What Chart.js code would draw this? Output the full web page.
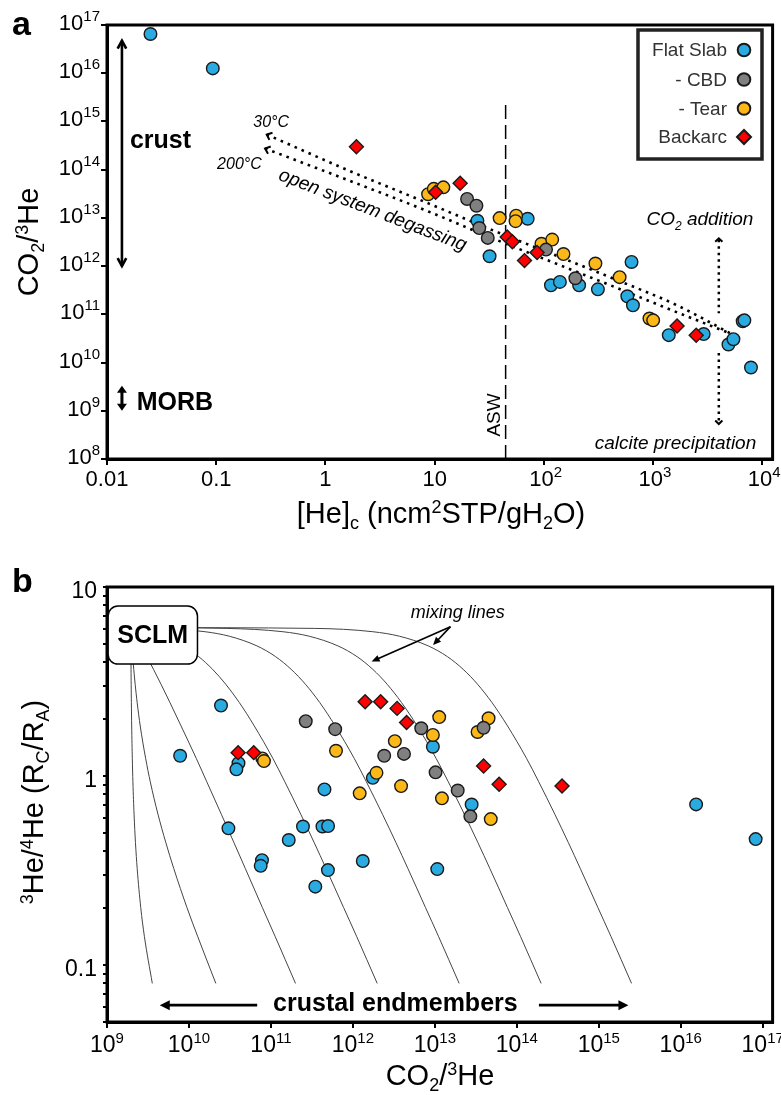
<!DOCTYPE html>
<html>
<head>
<meta charset="utf-8">
<script src="https://cdn.jsdelivr.net/npm/chart.js@4.4.0/dist/chart.umd.min.js"></script>
<style>
  html, body { margin: 0; padding: 0; background: #fff; }
  #wrap { position: relative; width: 781px; height: 1095px; }
  #wrap canvas { position: absolute; left: 0; }
  #chartA { top: 0; }
  #chartB { top: 540px; }
</style>
</head>
<body>
<div id="wrap">
  <canvas id="chartA" width="781" height="540"></canvas>
  <canvas id="chartB" width="781" height="555"></canvas>
</div>
<script>
var FONT = '"Liberation Sans", Arial, Helvetica, sans-serif';
var BLUE = '#29ABE2', GRAY = '#808080', YELLOW = '#FBB817', RED = '#FF0000', EDGE = '#1a1a1a';

// ---- panel a : [He]c vs CO2/3He ----
var aFlatSlab = [[0.025,6.5e16],[0.093,1.26e16],[24.6,8.7e12],[31.8,1.6e12],[71,9.6e12],[116,4.0e11],[140,4.7e11],
  [210,4.0e11],[312,3.3e11],[634,1.22e12],[580,2.37e11],[653,1.54e11],[1390,3.7e10],[2900,3.9e10],[4890,2.37e10],
  [5430,3.05e10],[6600,7.2e10],[6840,7.5e10],[7860,7.9e9]];
var aCBD = [[19.8,2.47e13],[24.1,1.79e13],[25.6,6.15e12],[30.6,3.85e12],[104.5,2.2e12],[194,5.6e11]];
var aTear = [[8.7,3.1e13],[9.8,4.0e13],[12.0,4.3e13],[39.3,9.9e12],[55.7,1.11e13],[55,8.55e12],[94.9,2.9e12],
  [119,3.55e12],[151,1.78e12],[296,1.13e12],[493,5.9e11],[925,8.2e10],[1000,7.5e10]];
var aBackarc = [[1.92,3.0e14],[10.2,3.42e13],[17.1,5.25e13],[46.1,4.0e12],[51.4,3.2e12],[66.4,1.3e12],[86.5,1.91e12],
  [1655,5.7e10],[2477,3.7e10]];

// open system degassing paths (30°C and 200°C)
var degas30He   = [0.29, 1.63, 8.75, 37.9, 134, 470, 1655, 5240];
var degas30CO2  = [5.36e14, 9.6e13, 2.0e13, 5.0e12, 1.6e12, 5.1e11, 1.54e11, 3.9e10];
var degas200He  = [0.28, 1.63, 8.75, 37.9, 134, 470, 1655, 5240];
var degas200CO2 = [2.75e14, 6.0e13, 1.36e13, 3.4e12, 1.09e12, 3.5e11, 1.1e11, 3.9e10];
var aswHe = 44.6;
var aswCO2 = [1e8, 2.7e15];

var aXTicks = [0.01, 0.1, 1, 10, 100, 1000, 10000];
var aXLabels = ['0.01', '0.1', '1', '10', '10^2', '10^3', '10^4'];
var aYTicks = [1e8, 1e9, 1e10, 1e11, 1e12, 1e13, 1e14, 1e15, 1e16, 1e17];
var aYLabels = ['10^8', '10^9', '10^10', '10^11', '10^12', '10^13', '10^14', '10^15', '10^16', '10^17'];

// ---- panel b : CO2/3He vs 3He/4He (Rc/Ra) ----
var bFlatSlab = [[7.8e9,1.28],[2.46e10,2.36],[4.02e10,1.17],[3.79e10,1.085],[3.03e10,0.529],[7.78e10,0.359],[7.5e10,0.335],
  [1.65e11,0.459],[2.46e11,0.541],[4.25e11,0.541],[4.98e11,0.544],[4.5e11,0.85],[4.96e11,0.318],[3.48e11,0.26],
  [1.32e12,0.355],[1.75e12,0.978],[9.46e12,1.43],[2.81e13,0.707],[1.07e13,0.322],[1.54e16,0.708],[8.2e16,0.464]];
var bCBD = [[2.66e11,1.95],[6.08e11,1.77],[2.41e12,1.28],[4.2e12,1.31],[6.82e12,1.79],[1.02e13,1.046],[3.93e13,1.80],
  [1.9e13,0.838],[2.71e13,0.612]];
var bTear = [[7.85e10,1.24],[8.22e10,1.2],[6.22e11,1.36],[3.25e12,1.53],[1.94e12,1.04],[1.21e12,0.81],[3.87e12,0.885],
  [1.13e13,2.05],[9.46e12,1.65],[1.22e13,0.762],[4.52e13,2.02],[3.32e13,1.71],[4.81e13,0.592]];
var bBackarc = [[3.98e10,1.33],[6.17e10,1.33],[1.41e12,2.47],[2.18e12,2.47],[3.46e12,2.28],[4.52e12,1.92],[3.93e13,1.13],
  [6.08e13,0.905],[3.56e14,0.885]];

// SCLM - crust mixing lines: Rc/Ra positions and CO2/3He of each line at those positions
var mixR = [6.1, 6.04, 5.80, 5.49, 4.88, 4.28, 3.67, 3.06, 2.45, 1.84, 1.24, 0.932, 0.628, 0.446, 0.324, 0.202, 0.142, 0.080];
var mixA = [1.95e9, 1.951e9, 1.952e9, 1.953e9, 1.956e9, 1.960e9, 1.965e9, 1.972e9, 1.983e9, 2.0e9, 2.036e9, 2.07e9, 2.139e9, 2.224e9, 2.335e9, 2.579e9, 2.857e9, 3.57e9];
var mixB = [1.95e9, 1.953e9, 1.964e9, 1.979e9, 2.015e9, 2.06e9, 2.121e9, 2.206e9, 2.333e9, 2.543e9, 2.961e9, 3.374e9, 4.188e9, 5.209e9, 6.528e9, 9.43e9, 1.275e10, 2.127e10];
var mixC = [1.95e9, 1.977e9, 2.088e9, 2.241e9, 2.604e9, 3.071e9, 3.691e9, 4.559e9, 5.856e9, 8.01e9, 1.228e10, 1.651e10, 2.482e10, 3.526e10, 4.875e10, 7.844e10, 1.124e11, 1.995e11];
var mixD = [1.95e9, 2.216e9, 3.331e9, 4.863e9, 8.501e9, 1.317e10, 1.939e10, 2.809e10, 4.109e10, 6.267e10, 1.055e11, 1.478e11, 2.312e11, 3.358e11, 4.71e11, 7.686e11, 1.109e12, 1.981e12];
var mixE = [1.95e9, 4.6e9, 1.575e10, 3.108e10, 6.747e10, 1.142e11, 1.764e11, 2.634e11, 3.935e11, 6.093e11, 1.038e12, 1.461e12, 2.295e12, 3.341e12, 4.693e12, 7.67e12, 1.107e13, 1.98e13];
var mixF = [1.95e9, 2.844e10, 1.4e11, 2.933e11, 6.571e11, 1.125e12, 1.747e12, 2.616e12, 3.917e12, 6.093e12, 1.036e13, 1.459e13, 2.293e13, 3.339e13, 4.692e13, 7.668e13, 1.107e14, 1.98e14];
var mixG = [1.95e9, 3.381e11, 1.753e12, 3.698e12, 8.315e12, 1.424e13, 2.214e13, 3.317e13, 4.967e13, 7.706e13, 1.314e14, 1.851e14, 2.909e14, 4.237e14, 5.952e14, 9.729e14, 1.405e15, 2.51e15];

var bXTicks = [1e9, 1e10, 1e11, 1e12, 1e13, 1e14, 1e15, 1e16, 1e17];
var bXLabels = ['10^9', '10^10', '10^11', '10^12', '10^13', '10^14', '10^15', '10^16', '10^17'];
var bYTicks = [0.05, 0.06, 0.07, 0.08, 0.09, 0.1, 0.2, 0.3, 0.4, 0.5, 0.6, 0.7, 0.8, 0.9, 1, 2, 3, 4, 5, 6, 7, 8, 9, 10];
var bYLabelTicks = [0.1, 1, 10];
var bYLabels = ['0.1', '1', '10'];

// ---------- helpers ----------
function pts(pairs) { return pairs.map(function (p) { return { x: p[0], y: p[1] }; }); }
function zip(xs, ys) { return xs.map(function (x, i) { return { x: x, y: ys[i] }; }); }

function pointSet(label, pairs, color, style, order) {
  return {
    label: label, data: pts(pairs), backgroundColor: color, borderColor: EDGE, borderWidth: 1.4,
    pointStyle: style, pointRadius: style === 'rectRot' ? 7 : 6.3, pointHoverRadius: style === 'rectRot' ? 7 : 6.3,
    order: order, showLine: false
  };
}
function lineSet(data, extra) {
  var d = { data: data, showLine: true, pointRadius: 0, pointHoverRadius: 0, fill: false, order: 10,
    borderColor: '#000', borderWidth: 1 };
  for (var k in extra) d[k] = extra[k];
  return d;
}
function logAxis(min, max, ticks, fit, isY, tickLen) {
  return {
    type: 'logarithmic', min: min, max: max,
    afterBuildTicks: function (s) { s.ticks = ticks.map(function (v) { return { value: v }; }); },
    afterFit: function (s) { if (isY) s.width = fit; else s.height = fit; },
    ticks: { display: false },
    grid: { display: true, drawOnChartArea: false, drawTicks: true, tickLength: tickLen, color: '#000', lineWidth: 2 },
    border: { display: true, color: '#000', width: 3 }
  };
}

function drawRich(ctx, text, x, y, size, o) {
  o = o || {};
  var segs = [], re = /([_^])\{([^}]*)\}|([^_^]+)/g, m;
  while ((m = re.exec(text))) segs.push(m[3] ? { t: m[3], k: 0 } : { t: m[2], k: m[1] === '^' ? 1 : -1 });
  var pre = (o.style ? o.style + ' ' : '') + (o.weight ? o.weight + ' ' : '');
  function font(k) { return pre + (k ? Math.round(size * 0.62) : size) + 'px ' + FONT; }
  var w = 0;
  segs.forEach(function (s) { ctx.font = font(s.k); s.w = ctx.measureText(s.t).width; w += s.w; });
  var cx = o.align === 'left' ? x : (o.align === 'right' ? x - w : x - w / 2);
  ctx.textAlign = 'left';
  ctx.textBaseline = o.baseline || 'alphabetic';
  ctx.fillStyle = o.color || '#000';
  segs.forEach(function (s) {
    ctx.font = font(s.k);
    ctx.fillText(s.t, cx, y + (s.k === 1 ? -size * 0.36 : (s.k === -1 ? size * 0.22 : 0)));
    cx += s.w;
  });
}

function tickLabels(ctx, scale, vals, labels, o) {
  ctx.fillStyle = '#000'; ctx.textAlign = 'left'; ctx.textBaseline = 'alphabetic';
  vals.forEach(function (v, i) {
    var parts = labels[i].split('^'), base = parts[0], sup = parts[1] || '';
    ctx.font = o.size + 'px ' + FONT;
    var wb = ctx.measureText(base).width;
    ctx.font = o.supSize + 'px ' + FONT;
    var ws = sup ? ctx.measureText(sup).width : 0;
    var p = scale.getPixelForValue(v), x0, yb;
    if (scale.isHorizontal()) {
      x0 = o.centerBase ? p - wb / 2 - ws * 0.3 : p - (wb + ws) / 2;
      yb = o.baseline;
    } else {
      x0 = o.right - wb - ws;
      yb = p + o.dy;
    }
    ctx.font = o.size + 'px ' + FONT;
    ctx.fillText(base, x0, yb);
    if (sup) { ctx.font = o.supSize + 'px ' + FONT; ctx.fillText(sup, x0 + wb, yb - o.supRise); }
  });
}

function seg(ctx, x1, y1, x2, y2) { ctx.beginPath(); ctx.moveTo(x1, y1); ctx.lineTo(x2, y2); ctx.stroke(); }
function chevron(ctx, x, y, ang, len, spread) {
  ctx.beginPath();
  ctx.moveTo(x - len * Math.cos(ang - spread), y - len * Math.sin(ang - spread));
  ctx.lineTo(x, y);
  ctx.lineTo(x - len * Math.cos(ang + spread), y - len * Math.sin(ang + spread));
  ctx.stroke();
}
function triHead(ctx, x, y, ang, len, half) {
  var bx = x - len * Math.cos(ang), by = y - len * Math.sin(ang);
  ctx.beginPath();
  ctx.moveTo(x, y);
  ctx.lineTo(bx + half * Math.sin(ang), by - half * Math.cos(ang));
  ctx.lineTo(bx - half * Math.sin(ang), by + half * Math.cos(ang));
  ctx.closePath(); ctx.fill();
}
function rotated(ctx, x, y, ang, fn) { ctx.save(); ctx.translate(x, y); ctx.rotate(ang); fn(); ctx.restore(); }
function frame(ctx, a) {
  ctx.strokeStyle = '#000'; ctx.lineWidth = 3;
  ctx.strokeRect(a.left, a.top, a.right - a.left, a.bottom - a.top);
}

// ---------- panel a ----------
var legendOrder = ['Flat Slab', '- CBD', '- Tear', 'Backarc'];

var panelA = {
  id: 'panelA',
  afterDraw: function (chart) {
    var ctx = chart.ctx, a = chart.chartArea, sx = chart.scales.x, sy = chart.scales.y;
    var X = function (v) { return sx.getPixelForValue(v); }, Y = function (v) { return sy.getPixelForValue(v); };
    ctx.save();
    frame(ctx, a);

    tickLabels(ctx, sx, aXTicks, aXLabels, { size: 22, supSize: 15, baseline: 486, supRise: 9, centerBase: true });
    tickLabels(ctx, sy, aYTicks, aYLabels, { size: 22, supSize: 15, right: 100, dy: 5, supRise: 9 });

    drawRich(ctx, '[He]_{c} (ncm^{2}STP/gH_{2}O)', 441, 523, 29);
    rotated(ctx, 38, 242, -Math.PI / 2, function () { drawRich(ctx, 'CO_{2}/^{3}He', 0, 0, 29); });

    ctx.fillStyle = '#000';
    ctx.font = 'bold 34px ' + FONT; ctx.textAlign = 'left'; ctx.textBaseline = 'alphabetic';
    ctx.fillText('a', 12, 35);

    // crust and MORB ranges
    ctx.strokeStyle = '#000'; ctx.fillStyle = '#000'; ctx.lineWidth = 2.6; ctx.lineCap = 'butt';
    var ax = X(0.0137);
    seg(ctx, ax, Y(4.7e16), ax, Y(1e12));
    chevron(ctx, ax, Y(4.7e16), -Math.PI / 2, 9, 0.5);
    chevron(ctx, ax, Y(1e12), Math.PI / 2, 9, 0.5);
    ctx.lineWidth = 3;
    seg(ctx, ax, Y(2.6e9), ax, Y(1.25e9));
    triHead(ctx, ax, Y(3.3e9), -Math.PI / 2, 7, 5);
    triHead(ctx, ax, Y(1e9), Math.PI / 2, 7, 5);
    ctx.font = 'bold 25px ' + FONT;
    ctx.fillText('crust', X(0.0162), Y(2.75e14));
    ctx.fillText('MORB', X(0.0187), Y(1.03e9));

    // degassing labels and arrow heads
    ctx.font = 'italic 16px ' + FONT; ctx.textAlign = 'center'; ctx.textBaseline = 'middle';
    ctx.fillText('30°C', X(0.318), Y(9.5e14));
    ctx.fillText('200°C', X(0.163), Y(1.28e14));
    rotated(ctx, X(2.7), Y(1.43e13), 21 * Math.PI / 180, function () {
      ctx.font = 'italic 19px ' + FONT; ctx.fillText('open system degassing', 0, 0);
    });
    ctx.lineWidth = 2;
    [[degas30He, degas30CO2], [degas200He, degas200CO2]].forEach(function (d) {
      var x0 = X(d[0][0]), y0 = Y(d[1][0]), x1 = X(d[0][1]), y1 = Y(d[1][1]);
      chevron(ctx, x0, y0, Math.atan2(y0 - y1, x0 - x1), 6, 0.7);
    });

    // ASW
    rotated(ctx, X(39.4), Y(8.2e8), -Math.PI / 2, function () {
      ctx.font = '19px ' + FONT; ctx.textAlign = 'center'; ctx.textBaseline = 'alphabetic';
      ctx.fillText('ASW', 0, 0);
    });

    // CO2 addition / calcite precipitation
    drawRich(ctx, 'CO_{2} addition', X(2680), Y(7e12), 19, { style: 'italic' });
    drawRich(ctx, 'calcite precipitation', X(1600), Y(1.6e8), 19, { style: 'italic' });
    var vx = X(3990);
    ctx.strokeStyle = '#000'; ctx.lineWidth = 2.5; ctx.setLineDash([2.5, 4]);
    seg(ctx, vx, Y(3.5e12), vx, Y(1.05e11));
    seg(ctx, vx, Y(1.57e10), vx, Y(5.8e8));
    ctx.setLineDash([]); ctx.lineWidth = 2;
    chevron(ctx, vx, Y(3.77e12), -Math.PI / 2, 5, 0.8);
    chevron(ctx, vx, Y(5.3e8), Math.PI / 2, 5, 0.8);

    // legend
    ctx.fillStyle = '#fff'; ctx.fillRect(638, 30, 124, 129);
    ctx.strokeStyle = '#222'; ctx.lineWidth = 3.5; ctx.strokeRect(638, 30, 124, 129);
    var rows = [50, 79.5, 108.5, 137];
    legendOrder.forEach(function (lab, i) {
      var ds = chart.data.datasets.filter(function (d) { return d.label === lab; })[0];
      ctx.font = '19px ' + FONT; ctx.fillStyle = '#333'; ctx.textAlign = 'right'; ctx.textBaseline = 'middle';
      ctx.fillText(lab, 727, rows[i] + 1);
      ctx.fillStyle = ds.backgroundColor; ctx.strokeStyle = EDGE; ctx.lineWidth = 2;
      Chart.helpers.drawPoint(ctx, { pointStyle: ds.pointStyle, radius: ds.pointRadius, borderWidth: 2, rotation: 0 }, 744, rows[i]);
    });
    ctx.restore();
  }
};

new Chart(document.getElementById('chartA'), {
  type: 'scatter',
  data: {
    datasets: [
      lineSet(zip(degas30He, degas30CO2), { borderWidth: 2.6, borderDash: [2.6, 5], cubicInterpolationMode: 'monotone' }),
      lineSet(zip(degas200He, degas200CO2), { borderWidth: 2.6, borderDash: [2.6, 5], cubicInterpolationMode: 'monotone' }),
      lineSet([{ x: aswHe, y: aswCO2[0] }, { x: aswHe, y: aswCO2[1] }], { borderWidth: 1.5, borderDash: [14, 6] }),
      pointSet('Flat Slab', aFlatSlab, BLUE, 'circle', 4),
      pointSet('- Tear', aTear, YELLOW, 'circle', 3),
      pointSet('- CBD', aCBD, GRAY, 'circle', 2),
      pointSet('Backarc', aBackarc, RED, 'rectRot', 1)
    ]
  },
  options: {
    responsive: false, animation: false, devicePixelRatio: 1, events: [],
    layout: { padding: { top: 25, right: 4, left: 0, bottom: 0 } },
    plugins: { legend: { display: false }, tooltip: { enabled: false } },
    scales: {
      x: logAxis(0.01, 12400, aXTicks, 81, false, 6),
      y: logAxis(1e8, 1e17, aYTicks, 107, true, 6)
    }
  },
  plugins: [panelA]
});

// ---------- panel b ----------
var panelB = {
  id: 'panelB',
  afterDatasetsDraw: function (chart) {
    var ctx = chart.ctx, sx = chart.scales.x, sy = chart.scales.y;
    var x1 = sx.getPixelForValue(1.03e9), x2 = sx.getPixelForValue(1.27e10);
    var y1 = sy.getPixelForValue(7.93), y2 = sy.getPixelForValue(3.91);
    ctx.save();
    ctx.beginPath(); ctx.roundRect(x1, y1, x2 - x1, y2 - y1, 10);
    ctx.fillStyle = '#fff'; ctx.fill();
    ctx.strokeStyle = '#000'; ctx.lineWidth = 1.5; ctx.stroke();
    ctx.fillStyle = '#000'; ctx.font = 'bold 25px ' + FONT; ctx.textAlign = 'center'; ctx.textBaseline = 'middle';
    ctx.fillText('SCLM', (x1 + x2) / 2, (y1 + y2) / 2 + 1);
    ctx.restore();
  },
  afterDraw: function (chart) {
    var ctx = chart.ctx, a = chart.chartArea, sx = chart.scales.x, sy = chart.scales.y;
    var X = function (v) { return sx.getPixelForValue(v); }, Y = function (v) { return sy.getPixelForValue(v); };
    ctx.save();
    frame(ctx, a);

    tickLabels(ctx, sx, bXTicks, bXLabels, { size: 23, supSize: 15, baseline: 512, supRise: 9 });
    tickLabels(ctx, sy, bYLabelTicks, bYLabels, { size: 23, supSize: 15, right: 97, dy: 11, supRise: 9 });

    drawRich(ctx, 'CO_{2}/^{3}He', 440, 545, 29);
    rotated(ctx, 43, 262, -Math.PI / 2, function () { drawRich(ctx, '^{3}He/^{4}He (R_{C}/R_{A})', 0, 0, 29); });

    ctx.fillStyle = '#000';
    ctx.font = 'bold 34px ' + FONT; ctx.textAlign = 'left'; ctx.textBaseline = 'alphabetic';
    ctx.fillText('b', 12, 52);

    // mixing lines label
    ctx.font = 'italic 18px ' + FONT; ctx.textAlign = 'center'; ctx.textBaseline = 'middle';
    ctx.fillText('mixing lines', X(1.9e13), Y(7.28));
    ctx.strokeStyle = '#000'; ctx.lineWidth = 1.6;
    var sxp = X(1.55e13), syp = Y(6.17);
    [[9.5e12, 4.93], [1.69e12, 4.03]].forEach(function (t) {
      var tx = X(t[0]), ty = Y(t[1]), ang = Math.atan2(ty - syp, tx - sxp);
      seg(ctx, sxp, syp, tx - 5 * Math.cos(ang), ty - 5 * Math.sin(ang));
      triHead(ctx, tx, ty, ang, 8, 3.5);
    });

    // crustal endmembers
    ctx.font = 'bold 25px ' + FONT;
    ctx.fillText('crustal endmembers', X(3.3e12), Y(0.0622));
    var ay = Y(0.0614);
    ctx.lineWidth = 2.6;
    seg(ctx, X(6.8e10), ay, X(4.4e9) + 6, ay);
    triHead(ctx, X(4.4e9), ay, Math.PI, 10, 5);
    seg(ctx, X(1.86e14), ay, X(2.3e15) - 6, ay);
    triHead(ctx, X(2.3e15), ay, 0, 10, 5);
    ctx.restore();
  }
};

var bDatasets = [mixA, mixB, mixC, mixD, mixE, mixF, mixG].map(function (c) {
  return lineSet(zip(c, mixR), { borderColor: '#444', borderWidth: 1, cubicInterpolationMode: 'monotone' });
});
bDatasets.push(pointSet('Flat Slab', bFlatSlab, BLUE, 'circle', 4));
bDatasets.push(pointSet('- Tear', bTear, YELLOW, 'circle', 3));
bDatasets.push(pointSet('- CBD', bCBD, GRAY, 'circle', 2));
bDatasets.push(pointSet('Backarc', bBackarc, RED, 'rectRot', 1));

new Chart(document.getElementById('chartB'), {
  type: 'scatter',
  data: { datasets: bDatasets },
  options: {
    responsive: false, animation: false, devicePixelRatio: 1, events: [],
    layout: { padding: { top: 47, right: 4, left: 0, bottom: 0 } },
    plugins: { legend: { display: false }, tooltip: { enabled: false } },
    scales: {
      x: logAxis(1e9, 1.32e17, bXTicks, 73, false, 6),
      y: logAxis(0.05, 10, bYTicks, 107, true, 4)
    }
  },
  plugins: [panelB]
});
</script>
</body>
</html>
